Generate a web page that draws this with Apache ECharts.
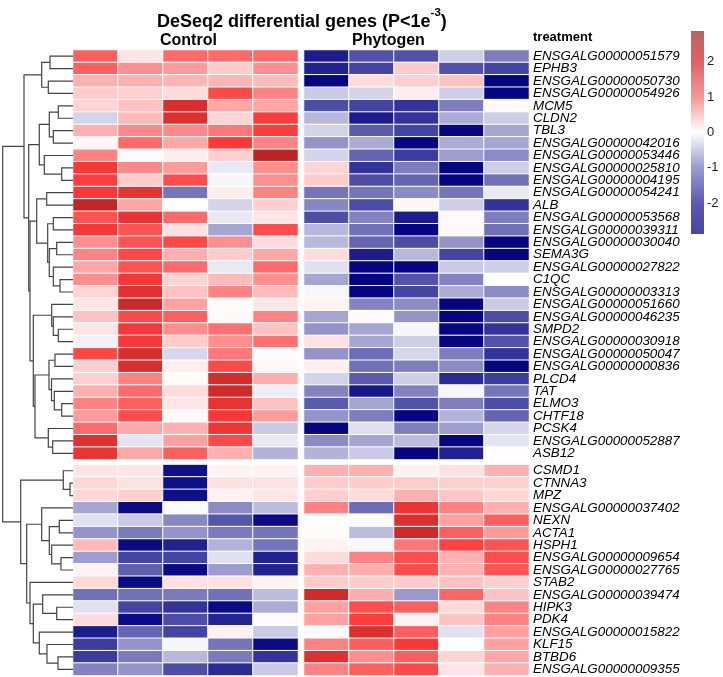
<!DOCTYPE html>
<html>
<head>
<meta charset="utf-8">
<script src="https://cdn.jsdelivr.net/npm/echarts@6/dist/echarts.min.js"></script>
<style>html,body{margin:0;padding:0;background:#fff}#main{width:723px;height:677px}</style>
</head>
<body>
<div id="main"></div>
<script>
// ---------- DATA ----------
const controlCols = ['C1','C2','C3','C4','C5'];
const phytoCols = ['P1','P2','P3','P4','P5'];
const genesTop = ['ENSGALG00000051579','EPHB3','ENSGALG00000050730','ENSGALG00000054926','MCM5','CLDN2','TBL3',
 'ENSGALG00000042016','ENSGALG00000053446','ENSGALG00000025810','ENSGALG00000004195','ENSGALG00000054241','ALB',
 'ENSGALG00000053568','ENSGALG00000039311','ENSGALG00000030040','SEMA3G','ENSGALG00000027822','C1QC',
 'ENSGALG00000003313','ENSGALG00000051660','ENSGALG00000046235','SMPD2','ENSGALG00000030918','ENSGALG00000050047',
 'ENSGALG00000000836','PLCD4','TAT','ELMO3','CHTF18','PCSK4','ENSGALG00000052887','ASB12'];
const genesBottom = ['CSMD1','CTNNA3','MPZ','ENSGALG00000037402','NEXN','ACTA1','HSPH1','ENSGALG00000009654',
 'ENSGALG00000027765','STAB2','ENSGALG00000039474','HIPK3','PDK4','ENSGALG00000015822','KLF15','BTBD6','ENSGALG00000009355'];

const controlTop = [
 [1.6,0.3,1.5,1.5,1.5],[1.6,1.2,1.1,0.6,1.2],[0.9,0.9,0.85,0.85,0.8],[0.6,0.55,0.4,1.8,1.3],
 [0.5,0.7,2.4,1.0,1.0],[-0.5,0.8,2.35,0.5,1.9],[0.9,1.25,1.25,1.4,1.9],[0.1,1.5,1.0,1.95,1.3],
 [1.3,-0.05,0.2,0.55,2.75],[2.0,1.25,1.1,-0.25,1.2],[1.9,0.6,1.75,-0.1,1.2],[2.0,2.2,-1.55,0.2,1.3],
 [2.7,1.0,-0.02,-0.5,0.55],[1.7,2.2,1.5,-0.25,0.3],[2.0,1.7,0.35,-1.0,1.75],[1.2,1.7,1.8,1.2,0.4],
 [1.3,1.8,0.95,0.6,1.0],[1.0,1.7,1.5,-0.25,1.5],[1.2,2.0,0.5,0.8,1.2],[0.5,2.3,0.7,1.3,0.8],
 [0.3,2.6,1.05,0.05,0.3],[0.7,1.8,1.6,0.07,1.3],[0.3,2.0,1.2,1.45,0.7],[-0.15,2.0,0.6,1.2,1.45],
 [1.8,2.4,-0.45,1.4,-0.03],[0.55,2.4,0.2,1.8,0.1],[0.55,1.3,0.05,2.45,0.95],[0.9,1.5,0.4,2.5,-0.2],
 [1.3,1.6,0.3,2.2,0.7],[1.1,1.75,0.07,2.0,1.1],[1.5,1.0,0.9,2.1,-0.6],[2.3,-0.3,1.05,1.8,-0.25],
 [2.15,1.0,1.6,0.9,-0.85]];
const phytoTop = [
 [-2.55,-1.95,-1.95,-0.55,-1.45],[-2.5,-2.1,0.6,-1.95,-2.1],[-2.8,0.4,0.55,0.7,-2.8],[-0.6,-0.5,0.2,-0.55,-2.8],
 [-2.0,-2.1,-2.3,-1.45,0.07],[-0.8,-2.55,-2.3,-0.95,-0.55],[-0.5,-1.85,-2.1,-2.8,-1.0],[-1.2,-0.95,-2.8,-0.95,-1.0],
 [-0.5,-1.75,-2.2,-1.1,-1.3],[0.5,-2.3,-1.45,-2.8,-0.55],[0.6,-2.0,-1.75,-2.8,-1.6],[-1.55,-1.55,-1.3,-1.55,-0.25],
 [-1.35,-2.0,0.1,-0.55,-2.3],[-2.0,-1.4,-2.55,0.07,-1.45],[-0.8,-1.6,-2.8,0.07,-1.6],[-0.8,-1.75,-2.0,-1.2,-2.8],
 [0.4,-2.55,-0.8,-2.1,-2.8],[-0.35,-2.8,-2.8,-0.6,-0.55],[-1.0,-2.8,-1.95,-1.4,0.0],[-0.08,-2.8,-2.1,-0.95,-1.3],
 [0.15,-1.4,-1.3,-2.8,-0.6],[-1.0,0.05,-1.2,-2.8,-2.0],[-1.2,-1.0,-0.1,-2.8,-2.3],[0.35,-1.0,-0.55,-2.8,-1.95],
 [-1.2,-1.65,-0.45,-1.45,-2.3],[0.2,-1.6,-1.45,-1.3,-2.8],[-0.5,-1.85,-0.55,-2.4,-2.2],[-1.4,-2.6,-1.4,-0.1,-1.55],
 [-1.85,-1.0,-1.95,-1.45,-2.0],[-1.2,-1.45,-2.8,-0.85,-1.75],[-2.8,-0.35,-1.45,-1.1,-0.45],[-1.3,-1.0,-0.75,-2.8,-0.3],
 [-0.85,-0.6,-2.8,-2.5,0.02]];
const controlBottom = [
 [0.3,0.3,-2.7,0.15,0.15],[0.45,0.35,-2.7,0.35,0.35],[0.45,0.55,-2.7,0.15,0.3],[-1.0,-2.75,-0.05,-1.3,-0.75],
 [-0.35,-0.6,-1.35,-1.9,-2.75],[-1.2,-1.5,-1.2,-1.5,-1.55],[0.8,-2.75,-2.5,-0.85,-1.55],[-1.1,-2.1,-2.1,-0.35,-2.5],
 [0.15,-1.8,-2.75,-1.1,-2.5],[0.45,-2.75,0.35,0.35,0.15],[-1.6,-1.6,-1.5,-1.6,-0.75],[-0.35,-2.1,-2.3,-2.75,-0.95],
 [0.4,-2.75,-2.0,-2.45,0.07],[-2.55,-1.75,-2.1,0.15,-0.6],[-2.2,-1.2,-0.1,-1.55,-2.75],[-2.2,-1.5,-0.8,-1.5,-2.3],
 [-1.4,-1.2,-2.0,-2.4,-0.6]];
const phytoBottom = [
 [0.9,0.9,0.15,0.35,0.9],[0.6,0.6,0.6,0.55,0.55],[0.55,0.4,0.9,0.65,0.45],[1.3,-1.65,2.15,1.3,0.9],
 [0.0,-0.05,2.35,1.05,1.6],[0.07,-0.75,2.55,1.6,1.1],[0.15,-0.08,1.4,1.85,1.7],[0.4,1.3,1.75,0.9,1.75],
 [0.9,0.95,1.75,0.9,1.7],[0.6,0.6,0.6,0.7,0.55],[2.5,0.95,-1.15,1.55,0.7],[1.05,1.75,1.6,0.45,1.3],
 [1.05,1.9,0.15,0.7,1.3],[0.02,2.35,1.6,-0.35,1.05],[1.3,1.6,2.0,-0.02,1.05],[2.3,1.2,1.6,0.5,1.0],
 [1.3,1.6,1.8,0.3,0.9]];

// Row dendrogram: [height, left, right]; leaves = row number (1-based, rows 1-50)
const dendroTree = [70.3,
  [49,
    [31.3, [23, 1, 2], [24.7, 3, 4]],
    [44.3,
      [33.7, [23.7, [14.7, 5, 6], [19.7, 7, 8]], [28.7, 9, [11.3, 10, 11]]],
      [43,
        [36.3, [26.3, 12, 13], [25.3, [19.7, 14, 15], [23.7, [16.3, 16, 17], [19.7, 18, [13, 19, 20]]]]],
        [39.7,
          [21.3, 21, [19.7, 22, [14.7, 23, 24]]],
          [38,
            [24, [18, 25, 26], [21.5, 27, [18.7, 28, [11.3, 29, 30]]]],
            [24.7, 31, [20.3, 32, 33]]]]]]],
  [52.3,
    [9.7, 34, [3, 35, 36]],
    [46.3,
      [31.3, 37, [23.7, [13.7, 38, 39], [21.3, 40, [12, 41, 42]]]],
      [43, 43,
        [39.7, [30.3, 44, [16.3, 45, 46]], [33.7, 47, [26, 48, [15, 49, 50]]]]]]]];

const legendTicks = [2, 1, 0, -1, -2];

// ---------- BUILD ----------
const ROWH = 12.41, TOP = 50, GAP = 5;
const topH = genesTop.length * ROWH, botTop = TOP + topH + GAP, botH = genesBottom.length * ROWH;
const gapRows = GAP / ROWH;
const nTop = genesTop.length;

function cells(mat) {
  const out = [];
  mat.forEach((row, r) => row.forEach((v, c) => out.push([c, r, v])));
  return out;
}
const segs = [];
function leafY(n) { const k = n - 1; return k + 0.5 + (k >= nTop ? gapRows : 0); }
function walk(node) {
  if (typeof node === 'number') return { h: 0, y: leafY(node) };
  const [h, l, r] = node;
  const a = walk(l), b = walk(r);
  segs.push({ coords: [[a.h, a.y], [h, a.y], [h, b.y], [b.h, b.y]] });
  return { h: h, y: (a.y + b.y) / 2 };
}
walk(dendroTree);

const FONT = '"Liberation Sans", Arial, Helvetica, sans-serif';
const hidden = { show: false };
function catX(cols, gi) {
  return { type: 'category', data: cols, gridIndex: gi, show: false };
}
function catY(genes, gi, showLabels) {
  return { type: 'category', data: genes, gridIndex: gi, inverse: true,
    position: 'right', axisLine: hidden, axisTick: hidden, splitLine: hidden,
    axisLabel: { show: showLabels, interval: 0, margin: 4, fontFamily: FONT, fontStyle: 'italic', fontSize: 13.4, color: '#000' } };
}
const hmItem = { borderColor: '#ffffff', borderWidth: 1 };
function hm(mat, gi) {
  return { type: 'heatmap', xAxisIndex: gi, yAxisIndex: gi, data: cells(mat), itemStyle: hmItem,
    emphasis: { disabled: true }, progressive: 0 };
}

const LEG_TOP = 31, LEG_H = 203, LEG_MAX = 2.87;
const legY = v => LEG_TOP + (LEG_MAX - v) / (2 * LEG_MAX) * LEG_H;

const option = {
  animation: false,
  backgroundColor: '#fff',
  title: {
    left: 152, top: 2,
    text: '{a|DeSeq2 differential genes (P<1e}{s|-3}{a|)}',
    textStyle: { rich: {
      a: { fontFamily: FONT, fontWeight: 'bold', fontSize: 18, color: '#000', lineHeight: 24, verticalAlign: 'bottom' },
      s: { fontFamily: FONT, fontWeight: 'bold', fontSize: 11.5, color: '#000', lineHeight: 24, verticalAlign: 'top' } } }
  },
  grid: [
    { left: 73, top: TOP, width: 225, height: topH },
    { left: 304, top: TOP, width: 225, height: topH },
    { left: 73, top: botTop, width: 225, height: botH },
    { left: 304, top: botTop, width: 225, height: botH },
    { left: 2.5, top: TOP, width: 70.5, height: botTop + botH - TOP }
  ],
  xAxis: [catX(controlCols, 0), catX(phytoCols, 1), catX(controlCols, 2), catX(phytoCols, 3),
    { type: 'value', gridIndex: 4, min: 0, max: 70.5, inverse: true, show: false }],
  yAxis: [catY(genesTop, 0, false), catY(genesTop, 1, true), catY(genesBottom, 2, false), catY(genesBottom, 3, true),
    { type: 'value', gridIndex: 4, min: 0, max: genesTop.length + genesBottom.length + gapRows, inverse: true, show: false }],
  visualMap: {
    type: 'continuous', show: false, min: -2.87, max: 2.87, seriesIndex: [0, 1, 2, 3], dimension: 2,
    inRange: { color: ['#000080', '#5555aa', '#aaaad5', '#ffffff', '#ffacac', '#ff3a3a', '#b22222'] }
  },
  series: [
    hm(controlTop, 0), hm(phytoTop, 1), hm(controlBottom, 2), hm(phytoBottom, 3),
    { type: 'lines', coordinateSystem: 'cartesian2d', xAxisIndex: 4, yAxisIndex: 4, polyline: true,
      data: segs, lineStyle: { color: '#444', width: 1.2, opacity: 1 }, silent: true }
  ],
  graphic: [
    { type: 'text', left: 160, top: 33, style: { text: 'Control', font: 'bold 16px ' + FONT, fill: '#000' } },
    { type: 'text', left: 352, top: 33, style: { text: 'Phytogen', font: 'bold 16px ' + FONT, fill: '#000' } },
    { type: 'text', left: 533, top: 31, style: { text: 'treatment', font: 'bold 13px ' + FONT, fill: '#000' } },
    { type: 'rect', shape: { x: 691, y: LEG_TOP, width: 13, height: LEG_H },
      style: { fill: { type: 'linear', x: 0, y: 0, x2: 0, y2: 1, colorStops: [
        { offset: 0, color: '#b86464' }, { offset: 0.15, color: '#e06262' }, { offset: 0.33, color: '#f29a9a' },
        { offset: 0.5, color: '#ffffff' }, { offset: 0.67, color: '#9c9cd2' }, { offset: 0.85, color: '#5a5ab0' },
        { offset: 1, color: '#4646a2' }] } } }
  ].concat(legendTicks.map(v => ({ type: 'text', x: 707, y: legY(v),
      style: { text: String(v), font: '13px ' + FONT, fill: '#222', verticalAlign: 'middle' } })))
};
echarts.init(document.getElementById('main')).setOption(option);
</script>
</body>
</html>
